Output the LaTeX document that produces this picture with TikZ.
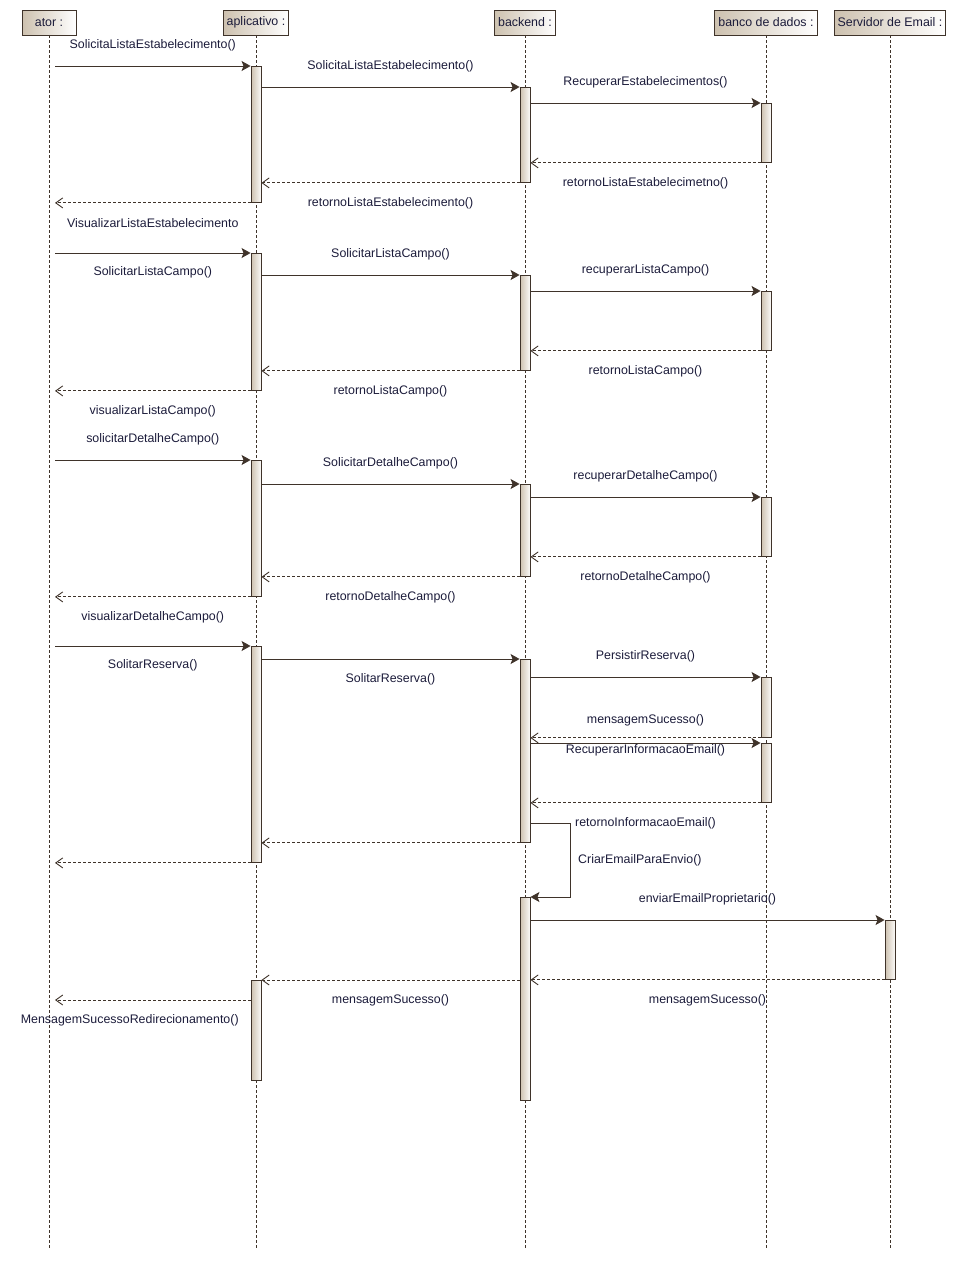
\documentclass[tikz,border=0pt]{standalone}
\usepackage{fontspec}
\setmainfont{Liberation Sans}
\usetikzlibrary{arrows.meta,positioning,calc}
\definecolor{umlline}{HTML}{3F332A}
\definecolor{umlfill}{HTML}{CDC1AF}
\definecolor{umltext}{HTML}{1B1B3A}

\begin{document}
\begin{tikzpicture}[x=1pt,y=-1pt,font=\fontsize{12.4}{14}\selectfont,text=umltext,
  head/.style={draw=umlline,line width=0.9pt,left color=umlfill,right color=white,minimum height=25pt,inner xsep=1.5pt,inner ysep=0pt},
  life/.style={draw=umlline,line width=0.7pt,dash pattern=on 3pt off 2pt},
  bar/.style={draw=umlline,line width=0.9pt,left color=umlfill,right color=white!92!umlfill,minimum width=10pt,inner sep=0pt,anchor=north},
  call/.style={draw=umlline,line width=0.9pt,-{Stealth[length=9pt,width=10pt,inset=2pt]}},
  ret/.style={draw=umlline,line width=0.9pt,dash pattern=on 3pt off 2pt,-{Straight Barb[length=7pt,width=10pt]}},
  msgup/.style={midway,yshift=21pt},
  msgdn/.style={midway,yshift=-20pt}]
\useasboundingbox (0,0) rectangle (956,1261);

% lifelines
\node[head,minimum width=54pt] (ator) at (49,22.5) {ator :};
\node[head,minimum width=65pt] (app) at (256,22.5) {aplicativo :};
\node[head,minimum width=61pt] (back) at (525,22.5) {backend :};
\node[head,minimum width=103pt] (banco) at (766,22.5) {banco de dados :};
\node[head,minimum width=111pt] (mail) at (890,22.5) {Servidor de Email :};
\foreach \n in {ator,app,back,banco,mail}
  \draw[life] (\n.south) -- (\n.south |- 0,1250);

% activations
\node[bar,minimum height=136pt] (a1) at (app.south |- 0,66) {};
\node[bar,minimum height=137pt] (a2) at (app.south |- 0,253) {};
\node[bar,minimum height=136pt] (a3) at (app.south |- 0,460) {};
\node[bar,minimum height=216pt] (a4) at (app.south |- 0,646) {};
\node[bar,minimum height=100pt] (a5) at (app.south |- 0,980) {};
\node[bar,minimum height=95pt] (b1) at (back.south |- 0,87) {};
\node[bar,minimum height=95pt] (b2) at (back.south |- 0,275) {};
\node[bar,minimum height=92pt] (b3) at (back.south |- 0,484) {};
\node[bar,minimum height=183pt] (b4) at (back.south |- 0,659) {};
\node[bar,minimum height=203pt] (b5) at (back.south |- 0,897) {};
\node[bar,minimum height=59pt] (d1) at (banco.south |- 0,103) {};
\node[bar,minimum height=59pt] (d2) at (banco.south |- 0,291) {};
\node[bar,minimum height=59pt] (d3) at (banco.south |- 0,497) {};
\node[bar,minimum height=60pt] (d4) at (banco.south |- 0,677) {};
\node[bar,minimum height=59pt] (d5) at (banco.south |- 0,743) {};
\node[bar,minimum height=59pt] (s1) at (mail.south |- 0,920) {};

% lista de estabelecimentos
\draw[call] ($(ator.south |- a1.north)+(6,0)$) -- (a1.north west) node[msgup] {SolicitaListaEstabelecimento()};
\draw[call] (a1.east |- b1.north) -- (b1.north west) node[msgup] {SolicitaListaEstabelecimento()};
\draw[call] (b1.east |- d1.north) -- (d1.north west) node[msgup] {RecuperarEstabelecimentos()};
\draw[ret] (d1.south west) -- (b1.east |- d1.south) node[msgdn] {retornoListaEstabelecimetno()};
\draw[ret] (b1.south west) -- (a1.east |- b1.south) node[msgdn] {retornoListaEstabelecimento()};
\draw[ret] (a1.south west) -- ($(ator.south |- a1.south)+(6,0)$) node[msgdn] {VisualizarListaEstabelecimento};

% lista de campos
\draw[call] ($(ator.south |- a2.north)+(6,0)$) -- (a2.north west) node[msgdn,yshift=1pt] {SolicitarListaCampo()};
\draw[call] (a2.east |- b2.north) -- (b2.north west) node[msgup] {SolicitarListaCampo()};
\draw[call] (b2.east |- d2.north) -- (d2.north west) node[msgup] {recuperarListaCampo()};
\draw[ret] (d2.south west) -- (b2.east |- d2.south) node[msgdn] {retornoListaCampo()};
\draw[ret] (b2.south west) -- (a2.east |- b2.south) node[msgdn] {retornoListaCampo()};
\draw[ret] (a2.south west) -- ($(ator.south |- a2.south)+(6,0)$) node[msgdn] {visualizarListaCampo()};

% detalhe do campo
\draw[call] ($(ator.south |- a3.north)+(6,0)$) -- (a3.north west) node[msgup] {solicitarDetalheCampo()};
\draw[call] (a3.east |- b3.north) -- (b3.north west) node[msgup] {SolicitarDetalheCampo()};
\draw[call] (b3.east |- d3.north) -- (d3.north west) node[msgup] {recuperarDetalheCampo()};
\draw[ret] (d3.south west) -- (b3.east |- d3.south) node[msgdn] {retornoDetalheCampo()};
\draw[ret] (b3.south west) -- (a3.east |- b3.south) node[msgdn] {retornoDetalheCampo()};
\draw[ret] (a3.south west) -- ($(ator.south |- a3.south)+(6,0)$) node[msgdn] {visualizarDetalheCampo()};

% reserva
\draw[call] ($(ator.south |- a4.north)+(6,0)$) -- (a4.north west) node[msgdn,yshift=1pt] {SolitarReserva()};
\draw[call] (a4.east |- b4.north) -- (b4.north west) node[msgdn] {SolitarReserva()};
\draw[call] (b4.east |- d4.north) -- (d4.north west) node[msgup] {PersistirReserva()};
\draw[ret] (d4.south west) -- (b4.east |- d4.south) node[msgup,yshift=-3pt] {mensagemSucesso()};
\draw[call] (b4.east |- d5.north) -- (d5.north west) node[midway,yshift=-7pt] {RecuperarInformacaoEmail()};
\draw[ret] (d5.south west) -- (b4.east |- d5.south) node[msgdn] {retornoInformacaoEmail()};
\coordinate (selfout) at ($(b4.north east)+(0,164)$);
\draw[call] (selfout) -- ++(40,0) |- (b5.north east) node[pos=0.25,right=4pt] {CriarEmailParaEnvio()};
\draw[ret] (b4.south west) -- (a4.east |- b4.south);
\draw[ret] (a4.south west) -- ($(ator.south |- a4.south)+(6,0)$);

% email
\draw[call] (b5.east |- s1.north) -- (s1.north west) node[msgup] {enviarEmailProprietario()};
\draw[ret] (s1.south west) -- (b5.east |- s1.south) node[msgdn] {mensagemSucesso()};
\draw[ret] (b5.west |- a5.north) -- (a5.north east) node[msgdn] {mensagemSucesso()};
\draw[ret] ($(a5.north west)+(0,20)$) -- ($(ator.south |- a5.north)+(6,20)$) node[msgdn,xshift=-23pt] {MensagemSucessoRedirecionamento()};
\end{tikzpicture}
\end{document}
